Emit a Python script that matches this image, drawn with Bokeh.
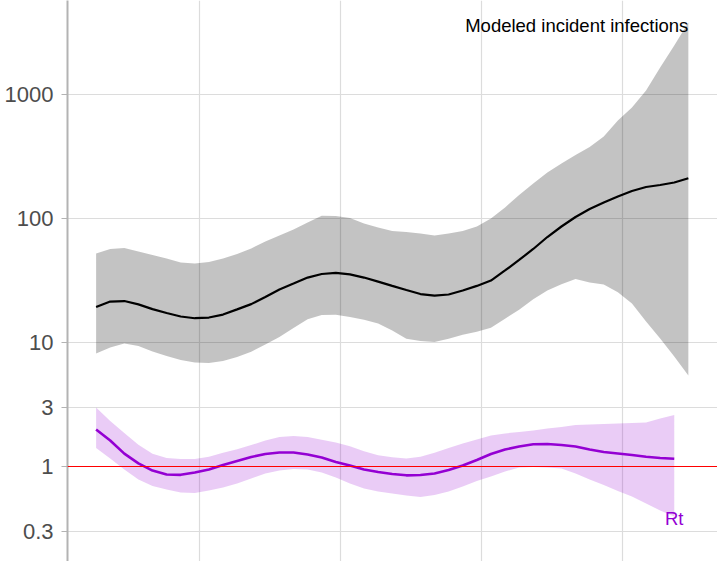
from bokeh.plotting import figure
from bokeh.models import Range1d, FixedTicker, SingleIntervalTicker, Span
from bokeh.embed import file_html
from bokeh.resources import INLINE
from bokeh.core.properties import value

# ---- data ----
days = [8, 11, 14, 17, 20, 23, 26, 29, 32, 35, 38, 41, 44, 47, 50, 53, 56, 59, 62, 65,
        68, 71, 74, 77, 80, 83, 86, 89, 92, 95, 98, 101, 104, 107, 110, 113, 116, 119,
        122, 125, 128, 131, 134]

inf_median = [19.3, 21.4, 21.6, 20.3, 18.6, 17.3, 16.2, 15.7, 15.9, 16.8, 18.5, 20.4, 23.3,
              26.8, 29.9, 33.4, 35.7, 36.5, 35.4, 33.4, 31.0, 28.6, 26.5, 24.6, 23.9, 24.4,
              26.3, 28.6, 31.6, 38.1, 46.3, 56.8, 70.9, 86.2, 102.8, 119.3, 134.6, 150.4,
              166.7, 179.5, 186.3, 195.2, 211.4]
inf_upper = [52.2, 56.8, 57.8, 54.2, 50.8, 47.6, 44.2, 43.4, 44.6, 47.6, 51.7, 57.3, 65.3,
             72.9, 81.5, 92.8, 105.1, 104.8, 100.9, 91.1, 84.6, 79.3, 77.8, 75.7, 72.9, 75.7,
             79.3, 86.2, 100.0, 122.7, 154.7, 191.6, 235.0, 277.6, 325.2, 377.3, 458.4,
             617.1, 785.6, 1077.0, 1651.0, 2484.0, 3807.0]
inf_lower = [8.15, 9.11, 9.82, 9.37, 8.46, 7.78, 7.23, 6.90, 6.83, 7.09, 7.63, 8.43, 9.63,
             11.10, 13.07, 15.39, 16.63, 16.75, 16.03, 15.25, 14.23, 12.50, 10.71, 10.30,
             10.09, 10.71, 11.54, 12.22, 13.14, 15.56, 18.39, 22.31, 26.21, 29.53, 32.52,
             30.47, 29.37, 25.45, 20.63, 14.77, 10.77, 7.71, 5.42]

rt_days = days[:42]
rt_median = [1.99, 1.62, 1.27, 1.06, 0.928, 0.862, 0.857, 0.895, 0.946, 1.028, 1.107, 1.193,
             1.261, 1.297, 1.297, 1.250, 1.182, 1.087, 1.019, 0.946, 0.903, 0.870, 0.849,
             0.854, 0.878, 0.937, 1.019, 1.128, 1.261, 1.371, 1.450, 1.510, 1.519, 1.491,
             1.450, 1.371, 1.309, 1.273, 1.238, 1.198, 1.171, 1.154]
rt_upper = [2.99, 2.33, 1.86, 1.50, 1.27, 1.17, 1.15, 1.15, 1.20, 1.29, 1.38, 1.49, 1.62,
            1.73, 1.76, 1.73, 1.64, 1.56, 1.46, 1.33, 1.23, 1.19, 1.16, 1.20, 1.29, 1.41,
            1.53, 1.65, 1.78, 1.85, 1.90, 1.95, 2.03, 2.08, 2.16, 2.18, 2.20, 2.22, 2.24,
            2.26, 2.44, 2.60]
rt_lower = [1.41, 1.16, 0.946, 0.786, 0.696, 0.652, 0.617, 0.611, 0.640, 0.677, 0.729, 0.800,
            0.878, 0.928, 0.955, 0.946, 0.895, 0.815, 0.729, 0.665, 0.629, 0.606, 0.584,
            0.568, 0.589, 0.629, 0.690, 0.764, 0.831, 0.911, 0.982, 0.991, 0.982, 0.964,
            0.878, 0.786, 0.709, 0.634, 0.573, 0.503, 0.442, 0.395]

y_ticks = [0.3, 1, 3, 10, 100, 1000]
y_tick_labels = ["0.3", "1", "3", "10", "100", "1000"]
rt_threshold = 1
label_infections = "Modeled incident infections"
label_rt = "Rt"

FONT = "Liberation Sans"

p = figure(width=717, height=561, output_backend="svg", toolbar_location=None,
           y_axis_type="log", x_axis_location=None,
           x_range=Range1d(1.915, 140.2), y_range=Range1d(0.1714, 5729),
           min_border_left=67, min_border_right=0, min_border_top=0, min_border_bottom=0,
           background_fill_color="white", border_fill_color="white")
p.outline_line_color = None

# grids
p.xgrid.ticker = SingleIntervalTicker(interval=30)
p.xgrid.grid_line_color = "#dcdcdc"
p.xgrid.grid_line_width = 1.2
p.ygrid.ticker = FixedTicker(ticks=y_ticks)
p.ygrid.grid_line_color = "#dcdcdc"
p.ygrid.grid_line_width = 1.2
p.ygrid.minor_grid_line_color = None

# y axis
ax = p.yaxis[0]
ax.ticker = FixedTicker(ticks=y_ticks, minor_ticks=[])
ax.major_label_overrides = {t: l for t, l in zip(y_ticks, y_tick_labels)}
ax.axis_line_color = "#b3b3b3"
ax.axis_line_width = 2
ax.major_tick_line_color = "#b3b3b3"
ax.major_tick_line_width = 1
ax.major_tick_out = 6
ax.major_tick_in = 0
ax.minor_tick_line_color = None
ax.major_label_standoff = 8
ax.major_label_text_font = FONT
ax.major_label_text_font_size = "22px"
ax.major_label_text_color = "#4d4d4d"

# infections band + median
p.varea(x=days, y1=inf_lower, y2=inf_upper, fill_color="black", fill_alpha=0.235)
p.line(x=days, y=inf_median, line_color="black", line_width=2.2)

# Rt band + median
p.varea(x=rt_days, y1=rt_lower, y2=rt_upper, fill_color="#9400D3", fill_alpha=0.2)
p.add_layout(Span(location=rt_threshold, dimension="width", line_color="red", line_width=1.2))
p.line(x=rt_days, y=rt_median, line_color="#9400D3", line_width=2.6)

# text labels
p.text(x=[days[-1]], y=[inf_upper[-1]], text=[label_infections], text_align="right",
       text_baseline="alphabetic", y_offset=3, text_font=value(FONT),
       text_font_size="18.5px", text_color="black")
p.text(x=[rt_days[-1]], y=[rt_lower[-1]], text=[label_rt], text_align="center",
       text_baseline="alphabetic", y_offset=2, text_font=value(FONT),
       text_font_size="18.5px", text_color="#9400D3")

open("out.html", "w").write(file_html(p, INLINE))
